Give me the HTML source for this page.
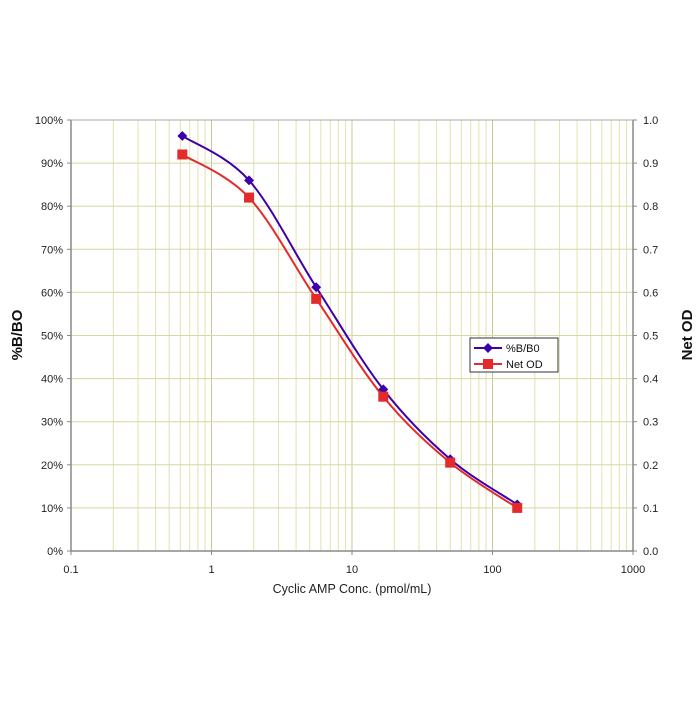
<!DOCTYPE html>
<html><head><meta charset="utf-8"><style>
body{margin:0;background:#fff;}
svg text{font-family:"Liberation Sans",sans-serif;}
</style></head><body>
<svg id="chart" width="700" height="700">
</svg>
<script>
const concentrations=[0.62,1.85,5.56,16.7,50,150];
const pctB0=[96.3,86,61.2,37.5,21.3,10.8];
const netOD=[0.92,0.82,0.585,0.358,0.205,0.10];
const xTicks=["0.1","1","10","100","1000"];
const yTicks=["0%","10%","20%","30%","40%","50%","60%","70%","80%","90%","100%"];
const y2Ticks=["0.0","0.1","0.2","0.3","0.4","0.5","0.6","0.7","0.8","0.9","1.0"];

const L=71,R=633,T=120,B=551;
const svg=document.getElementById('chart');
const NS='http://www.w3.org/2000/svg';
function X(v){return L+(Math.log10(v)+1)/4*(R-L);}
function Y(p){return B-p/100*(B-T);}
function mk(tag,attrs,parent){const e=document.createElementNS(NS,tag);for(const k in attrs)e.setAttribute(k,attrs[k]);(parent||svg).appendChild(e);return e;}

// vertical grid
for(let d=-1;d<3;d++){for(let m=2;m<=10;m++){const v=m*Math.pow(10,d);const l=mk('line',{x1:X(v),x2:X(v),y1:T,y2:B,stroke:m===10?'#c8c890':'#e2e2b0','stroke-width':1});

}}
// horizontal grid
yTicks.forEach((t,i)=>{const y=Y(i*10);const l=mk('line',{x1:L,x2:R,y1:y,y2:y,stroke:'#d8d8a0','stroke-width':1});


const tl=mk('text',{x:L-8,y:y+4,'text-anchor':'end','font-size':11,fill:'#222'});tl.textContent=t;


const t2=mk('text',{x:R+10,y:y+4,'font-size':11,fill:'#222'});t2.textContent=y2Ticks[i];


mk('line',{x1:L-4,x2:L,y1:y,y2:y,stroke:'#888'});mk('line',{x1:R,x2:R+4,y1:y,y2:y,stroke:'#888'});});
xTicks.forEach((t,i)=>{const x=X(Math.pow(10,i-1));const tl=mk('text',{x:x,y:B+22,'text-anchor':'middle','font-size':11,fill:'#222'});tl.textContent=t;


mk('line',{x1:x,x2:x,y1:B,y2:B+4,stroke:'#888'});});
// axes frame
const fr=mk('path',{d:`M${L},${T}V${B}H${R}V${T}`,fill:'none',stroke:'#888','stroke-width':1.5});


mk('line',{x1:L,x2:R,y1:T,y2:T,stroke:'#aaa'});

function smooth(pts){let d=`M${pts[0][0]},${pts[0][1]}`;for(let i=0;i<pts.length-1;i++){const p0=pts[i-1]||pts[i],p1=pts[i],p2=pts[i+1],p3=pts[i+2]||p2;
const c1=[p1[0]+(p2[0]-p0[0])/6,p1[1]+(p2[1]-p0[1])/6],c2=[p2[0]-(p3[0]-p1[0])/6,p2[1]-(p3[1]-p1[1])/6];
d+=`C${c1[0]},${c1[1]} ${c2[0]},${c2[1]} ${p2[0]},${p2[1]}`;}return d;}

const odPts=concentrations.map((c,i)=>[X(c),Y(netOD[i]*100)]);
const bPts=concentrations.map((c,i)=>[X(c),Y(pctB0[i])]);
const lb=mk('path',{d:smooth(bPts),fill:'none',stroke:'#3c00aa','stroke-width':2});


const lo=mk('path',{d:smooth(odPts),fill:'none',stroke:'#e32b2b','stroke-width':2});


bPts.forEach(p=>{const m=mk('rect',{x:p[0]-3.5,y:p[1]-3.5,width:7,height:7,fill:'#3c00aa',transform:`rotate(45 ${p[0]} ${p[1]})`});

});
odPts.forEach(p=>{const m=mk('rect',{x:p[0]-5,y:p[1]-5,width:10,height:10,fill:'#e32b2b'});

});

// legend
const lg=mk('g',{});


mk('rect',{x:470,y:338,width:88,height:34,fill:'#fff',stroke:'#333'},lg);
mk('line',{x1:474,x2:502,y1:348,y2:348,stroke:'#3c00aa','stroke-width':2},lg);
mk('rect',{x:484.5,y:344.5,width:7,height:7,fill:'#3c00aa',transform:'rotate(45 488 348)'},lg);
const t1=mk('text',{x:506,y:352,'font-size':11,fill:'#111'},lg);t1.textContent='%B/B0';
mk('line',{x1:474,x2:502,y1:364,y2:364,stroke:'#e32b2b','stroke-width':2},lg);
mk('rect',{x:483,y:359,width:10,height:10,fill:'#e32b2b'},lg);
const t2=mk('text',{x:506,y:368,'font-size':11,fill:'#111'},lg);t2.textContent='Net OD';

// axis titles
const xt=mk('text',{x:(L+R)/2,y:B+42,'text-anchor':'middle','font-size':12.5,fill:'#222'});xt.textContent='Cyclic AMP Conc. (pmol/mL)';


const yt=mk('text',{x:22,y:335,'text-anchor':'middle','font-size':15,'font-weight':'bold',fill:'#111',transform:'rotate(-90 22 335)'});yt.textContent='%B/BO';


const y2=mk('text',{x:692,y:335,'text-anchor':'middle','font-size':15,'font-weight':'bold',fill:'#111',transform:'rotate(-90 692 335)'});y2.textContent='Net OD';


</script>
</body></html>
